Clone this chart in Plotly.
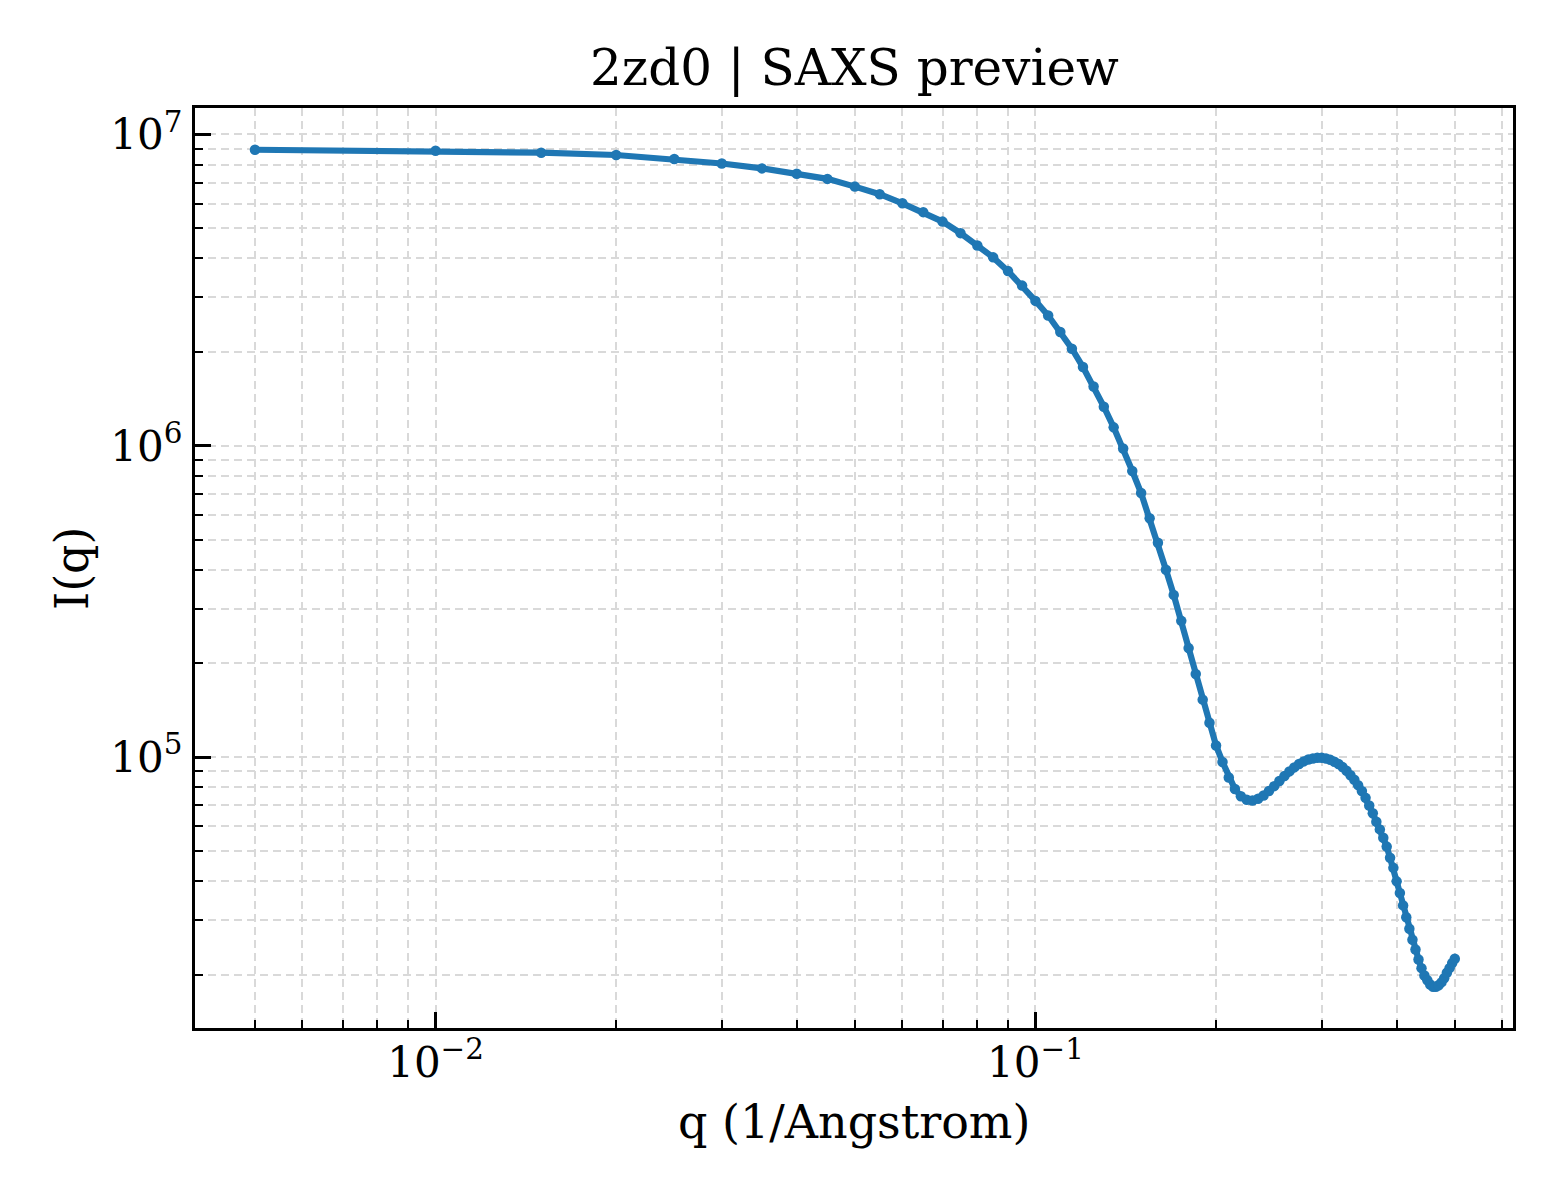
import plotly.graph_objects as go

# ---------------- data ----------------
q_values = [
    0.005, 0.010, 0.015, 0.020, 0.025, 0.030, 0.035, 0.040, 0.045, 0.050,
    0.055, 0.060, 0.065, 0.070, 0.075, 0.080, 0.085, 0.090, 0.095, 0.100,
    0.105, 0.110, 0.115, 0.120, 0.125, 0.130, 0.135, 0.140, 0.145, 0.150,
    0.155, 0.160, 0.165, 0.170, 0.175, 0.180, 0.185, 0.190, 0.195, 0.200,
    0.205, 0.210, 0.215, 0.220, 0.225, 0.230, 0.235, 0.240, 0.245, 0.250,
    0.255, 0.260, 0.265, 0.270, 0.275, 0.280, 0.285, 0.290, 0.295, 0.300,
    0.305, 0.310, 0.315, 0.320, 0.325, 0.330, 0.335, 0.340, 0.345, 0.350,
    0.355, 0.360, 0.365, 0.370, 0.375, 0.380, 0.385, 0.390, 0.395, 0.400,
    0.405, 0.410, 0.415, 0.420, 0.425, 0.430, 0.435, 0.440, 0.445, 0.450,
    0.455, 0.460, 0.465, 0.470, 0.475, 0.480, 0.485, 0.490, 0.495, 0.500,
]

intensity = [
    8.93e6, 8.87e6, 8.74e6, 8.59e6, 8.34e6, 8.07e6, 7.78e6, 7.48e6, 7.20e6, 6.80e6,
    6.43e6, 6.01e6, 5.63e6, 5.25e6, 4.82e6, 4.40e6, 4.03e6, 3.64e6, 3.27e6, 2.92e6,
    2.62e6, 2.32e6, 2.05e6, 1.79e6, 1.55e6, 1.335e6, 1.146e6, 9.80e5, 8.30e5, 7.05e5,
    5.85e5, 4.88e5, 4.00e5, 3.32e5, 2.74e5, 2.24e5, 1.85e5, 1.53e5, 1.29e5, 1.09e5,
    9.65e4, 8.60e4, 7.90e4, 7.49e4, 7.30e4, 7.25e4, 7.35e4, 7.53e4, 7.78e4, 8.07e4,
    8.38e4, 8.69e4, 9.00e4, 9.27e4, 9.50e4, 9.69e4, 9.83e4, 9.90e4, 9.95e4, 9.95e4,
    9.90e4, 9.80e4, 9.66e4, 9.50e4, 9.29e4, 9.04e4, 8.75e4, 8.46e4, 8.13e4, 7.78e4,
    7.40e4, 6.99e4, 6.60e4, 6.20e4, 5.86e4, 5.51e4, 5.16e4, 4.75e4, 4.41e4, 3.99e4,
    3.66e4, 3.34e4, 3.06e4, 2.81e4, 2.59e4, 2.41e4, 2.24e4, 2.10e4, 1.99e4, 1.92e4,
    1.86e4, 1.83e4, 1.83e4, 1.85e4, 1.89e4, 1.95e4, 2.03e4, 2.10e4, 2.18e4, 2.25e4,
]

x_tickvals = [0.01, 0.1]
x_ticktext = ["10<sup>\u22122</sup>", "10<sup>\u22121</sup>"]
y_tickvals = [1e5, 1e6, 1e7]
y_ticktext = ["10<sup>5</sup>", "10<sup>6</sup>", "10<sup>7</sup>"]

title_text = "2zd0 | SAXS preview"
x_label = "q (1/Angstrom)"
y_label = "I(q)"

# ---------------- styling ----------------
FONT = "DejaVu Serif"
LINE_COLOR = "#1f77b4"
GRID_COLOR = "#d9d9d9"
GRID_DASH = "8px,5px"

W, H = 1560, 1200
L, R, T, B = 195, 47, 108, 172
plot_h = H - T - B
plot_w = W - L - R

x_minor = [m * 10.0 ** e for e in (-3, -2, -1) for m in range(2, 10)]
x_minor = [v for v in x_minor if 0.0041 < v < 0.62]
y_minor = [m * 10.0 ** e for e in (4, 5, 6) for m in range(2, 10)]

fig = go.Figure()
fig.add_trace(
    go.Scatter(
        x=q_values,
        y=intensity,
        mode="lines+markers",
        line=dict(color=LINE_COLOR, width=6.2),
        marker=dict(color=LINE_COLOR, size=10.5),
        showlegend=False,
        hoverinfo="skip",
    )
)

axis_common = dict(
    type="log",
    showline=True,
    linecolor="black",
    linewidth=3.3,
    mirror=True,
    ticks="inside",
    ticklen=16,
    tickwidth=3,
    tickcolor="black",
    showgrid=True,
    gridcolor=GRID_COLOR,
    gridwidth=1.6,
    griddash=GRID_DASH,
    tickfont=dict(family=FONT, size=42, color="black"),
    tickmode="array",
)

minor_common = dict(
    ticks="inside",
    ticklen=8,
    tickwidth=2.4,
    tickcolor="black",
    showgrid=True,
    gridcolor=GRID_COLOR,
    gridwidth=1.6,
    griddash=GRID_DASH,
)

fig.update_xaxes(
    **axis_common,
    range=[-2.401, -0.204],
    tickvals=x_tickvals,
    ticktext=x_ticktext,
    ticklabelstandoff=-5,
    minor=dict(tickvals=x_minor, **minor_common),
)
fig.update_yaxes(
    **axis_common,
    range=[4.130, 7.085],
    tickvals=y_tickvals,
    ticktext=y_ticktext,
    ticklabelstandoff=1,
    minor=dict(tickvals=y_minor, **minor_common),
)

def py_to_paper(py):
    return (H - B - py) / plot_h

def px_to_paper(px):
    return (px - L) / plot_w

fig.update_layout(
    width=W,
    height=H,
    margin=dict(l=L, r=R, t=T, b=B, pad=0),
    paper_bgcolor="white",
    plot_bgcolor="white",
    font=dict(family=FONT, color="black"),
    annotations=[
        dict(
            text=title_text, xref="paper", yref="paper",
            x=0.5, y=py_to_paper(68), xanchor="center", yanchor="middle",
            showarrow=False, font=dict(family=FONT, size=50, color="black"),
        ),
        dict(
            text=x_label, xref="paper", yref="paper",
            x=0.5, y=py_to_paper(1122), xanchor="center", yanchor="middle",
            showarrow=False, font=dict(family=FONT, size=46, color="black"),
        ),
        dict(
            text=y_label, xref="paper", yref="paper",
            x=px_to_paper(72), y=0.5, xanchor="center", yanchor="middle",
            textangle=-90,
            showarrow=False, font=dict(family=FONT, size=46, color="black"),
        ),
    ],
)

fig.write_html(
    "out.html",
    config={"displayModeBar": False},
    post_script="document.body.style.margin='0';",
)
